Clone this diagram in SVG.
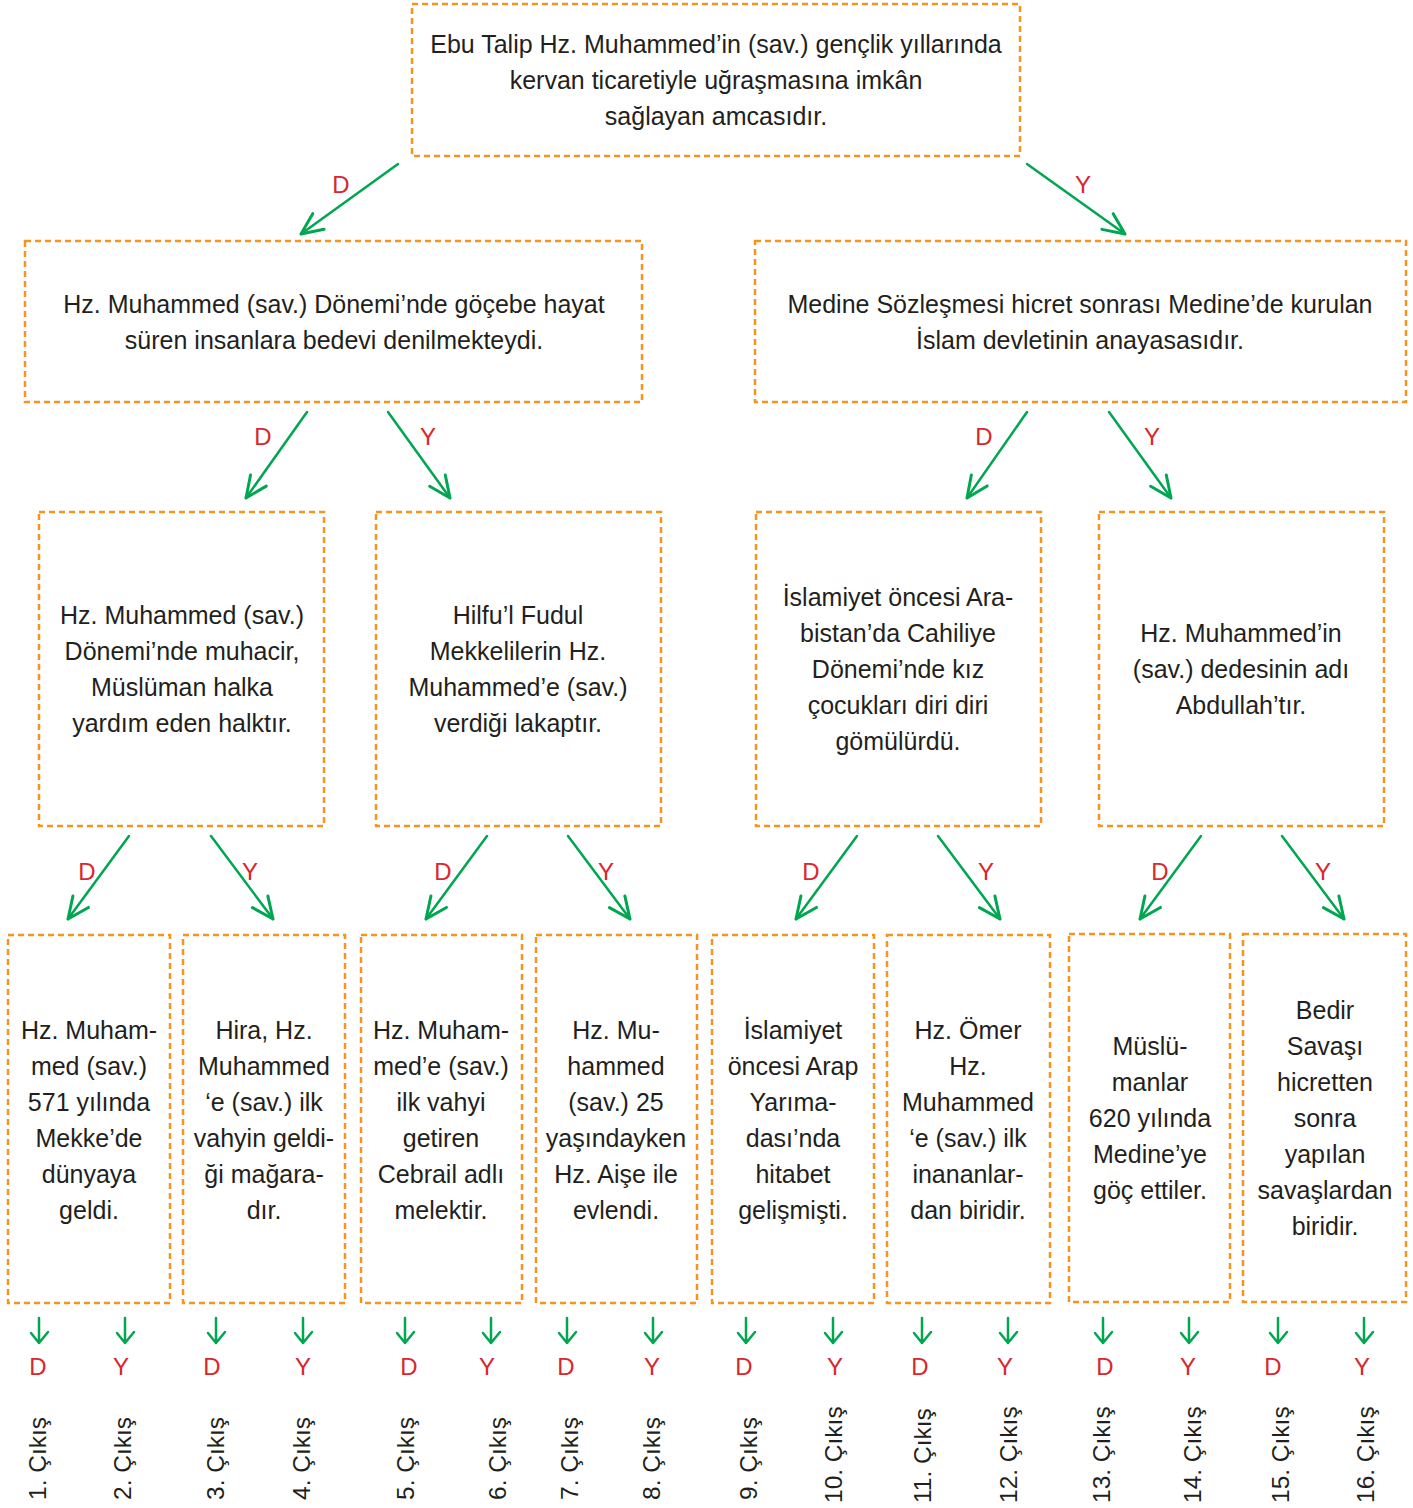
<svg xmlns="http://www.w3.org/2000/svg" width="1413" height="1508" viewBox="0 0 1413 1508">
<style>
.box{fill:#fff;stroke:#f7941d;stroke-width:2.5;stroke-dasharray:6 4}
.t{font-family:"Liberation Sans",Arial,sans-serif;font-size:25px;fill:#231f20;text-anchor:middle}
.lbl{font-family:"Liberation Sans",Arial,sans-serif;font-size:24px;fill:#d7282f;text-anchor:middle}
.out{font-family:"Liberation Sans",Arial,sans-serif;font-size:24.5px;fill:#231f20}
.ar{fill:none;stroke:#00a650;stroke-width:2.5;stroke-linecap:round;marker-end:url(#ah)}
.sa{fill:none;stroke:#00a650;stroke-width:2.5;stroke-linecap:round;stroke-linejoin:round}
</style>
<defs>
<marker id="ah" markerUnits="userSpaceOnUse" markerWidth="30" markerHeight="30" viewBox="-24 -12 28 24" refX="0" refY="0" orient="auto">
<path d="M-20,-9 L0,0 L-20,9" fill="none" stroke="#00a650" stroke-width="2.8" stroke-linecap="round" stroke-linejoin="round"/>
</marker>
</defs>
<rect width="1413" height="1508" fill="#fff"/>

<g id="n0"><rect class="box" x="412" y="4" width="608" height="152"/>
<text class="t" x="716" y="53">Ebu Talip Hz. Muhammed’in (sav.) gençlik yıllarında</text>
<text class="t" x="716" y="89">kervan ticaretiyle uğraşmasına imkân</text>
<text class="t" x="716" y="125">sağlayan amcasıdır.</text></g>

<g id="n1"><rect class="box" x="25" y="241" width="617" height="161"/>
<text class="t" x="334" y="313">Hz. Muhammed (sav.) Dönemi’nde göçebe hayat</text>
<text class="t" x="334" y="349">süren insanlara bedevi denilmekteydi.</text></g>

<g id="n2"><rect class="box" x="755" y="241" width="651" height="161"/>
<text class="t" x="1080" y="313">Medine Sözleşmesi hicret sonrası Medine’de kurulan</text>
<text class="t" x="1080" y="349">İslam devletinin anayasasıdır.</text></g>

<g id="n3"><rect class="box" x="39" y="512" width="285" height="314"/>
<text class="t" x="182" y="624">Hz. Muhammed (sav.)</text>
<text class="t" x="182" y="660">Dönemi’nde muhacir,</text>
<text class="t" x="182" y="696">Müslüman halka</text>
<text class="t" x="182" y="732">yardım eden halktır.</text></g>

<g id="n4"><rect class="box" x="376" y="512" width="285" height="314"/>
<text class="t" x="518" y="624">Hilfu’l Fudul</text>
<text class="t" x="518" y="660">Mekkelilerin Hz.</text>
<text class="t" x="518" y="696">Muhammed’e (sav.)</text>
<text class="t" x="518" y="732">verdiği lakaptır.</text></g>

<g id="n5"><rect class="box" x="756" y="512" width="285" height="314"/>
<text class="t" x="898" y="606">İslamiyet öncesi Ara-</text>
<text class="t" x="898" y="642">bistan’da Cahiliye</text>
<text class="t" x="898" y="678">Dönemi’nde kız</text>
<text class="t" x="898" y="714">çocukları diri diri</text>
<text class="t" x="898" y="750">gömülürdü.</text></g>

<g id="n6"><rect class="box" x="1099" y="512" width="285" height="314"/>
<text class="t" x="1241" y="642">Hz. Muhammed’in</text>
<text class="t" x="1241" y="678">(sav.) dedesinin adı</text>
<text class="t" x="1241" y="714">Abdullah’tır.</text></g>

<g id="n7"><rect class="box" x="8" y="935" width="162" height="368"/>
<text class="t" x="89" y="1039">Hz. Muham-</text>
<text class="t" x="89" y="1075">med (sav.)</text>
<text class="t" x="89" y="1111">571 yılında</text>
<text class="t" x="89" y="1147">Mekke’de</text>
<text class="t" x="89" y="1183">dünyaya</text>
<text class="t" x="89" y="1219">geldi.</text></g>

<g id="n8"><rect class="box" x="183" y="935" width="162" height="368"/>
<text class="t" x="264" y="1039">Hira, Hz.</text>
<text class="t" x="264" y="1075">Muhammed</text>
<text class="t" x="264" y="1111">‘e (sav.) ilk</text>
<text class="t" x="264" y="1147">vahyin geldi-</text>
<text class="t" x="264" y="1183">ği mağara-</text>
<text class="t" x="264" y="1219">dır.</text></g>

<g id="n9"><rect class="box" x="361" y="935" width="161" height="368"/>
<text class="t" x="441" y="1039">Hz. Muham-</text>
<text class="t" x="441" y="1075">med’e (sav.)</text>
<text class="t" x="441" y="1111">ilk vahyi</text>
<text class="t" x="441" y="1147">getiren</text>
<text class="t" x="441" y="1183">Cebrail adlı</text>
<text class="t" x="441" y="1219">melektir.</text></g>

<g id="n10"><rect class="box" x="536" y="935" width="161" height="368"/>
<text class="t" x="616" y="1039">Hz. Mu-</text>
<text class="t" x="616" y="1075">hammed</text>
<text class="t" x="616" y="1111">(sav.) 25</text>
<text class="t" x="616" y="1147">yaşındayken</text>
<text class="t" x="616" y="1183">Hz. Aişe ile</text>
<text class="t" x="616" y="1219">evlendi.</text></g>

<g id="n11"><rect class="box" x="712" y="935" width="162" height="368"/>
<text class="t" x="793" y="1039">İslamiyet</text>
<text class="t" x="793" y="1075">öncesi Arap</text>
<text class="t" x="793" y="1111">Yarıma-</text>
<text class="t" x="793" y="1147">dası’nda</text>
<text class="t" x="793" y="1183">hitabet</text>
<text class="t" x="793" y="1219">gelişmişti.</text></g>

<g id="n12"><rect class="box" x="887" y="935" width="163" height="368"/>
<text class="t" x="968" y="1039">Hz. Ömer</text>
<text class="t" x="968" y="1075">Hz.</text>
<text class="t" x="968" y="1111">Muhammed</text>
<text class="t" x="968" y="1147">‘e (sav.) ilk</text>
<text class="t" x="968" y="1183">inananlar-</text>
<text class="t" x="968" y="1219">dan biridir.</text></g>

<g id="n13"><rect class="box" x="1069" y="934" width="161" height="368"/>
<text class="t" x="1150" y="1055">Müslü-</text>
<text class="t" x="1150" y="1091">manlar</text>
<text class="t" x="1150" y="1127">620 yılında</text>
<text class="t" x="1150" y="1163">Medine’ye</text>
<text class="t" x="1150" y="1199">göç ettiler.</text></g>

<g id="n14"><rect class="box" x="1243" y="934" width="163" height="368"/>
<text class="t" x="1325" y="1019">Bedir</text>
<text class="t" x="1325" y="1055">Savaşı</text>
<text class="t" x="1325" y="1091">hicretten</text>
<text class="t" x="1325" y="1127">sonra</text>
<text class="t" x="1325" y="1163">yapılan</text>
<text class="t" x="1325" y="1199">savaşlardan</text>
<text class="t" x="1325" y="1235">biridir.</text></g>

<g id="connectors">
<line class="ar" x1="398" y1="164" x2="301" y2="234"/>
<line class="ar" x1="1027" y1="164" x2="1125" y2="234"/>
<line class="ar" x1="307" y1="412" x2="246" y2="498"/>
<line class="ar" x1="388" y1="412" x2="450" y2="498"/>
<line class="ar" x1="1027" y1="412" x2="967" y2="498"/>
<line class="ar" x1="1109" y1="412" x2="1171" y2="498"/>
<line class="ar" x1="129" y1="836" x2="68" y2="919"/>
<line class="ar" x1="211" y1="836" x2="273" y2="919"/>
<line class="ar" x1="487" y1="836" x2="426" y2="919"/>
<line class="ar" x1="568" y1="836" x2="630" y2="919"/>
<line class="ar" x1="857" y1="836" x2="796" y2="919"/>
<line class="ar" x1="938" y1="836" x2="1000" y2="919"/>
<line class="ar" x1="1201" y1="836" x2="1140" y2="919"/>
<line class="ar" x1="1282" y1="836" x2="1344" y2="919"/>
<g class="sa">
<path d="M39,1318 V1343 M31,1333 L39,1343 L48,1332"/>
<path d="M125,1318 V1343 M117,1333 L125,1343 L134,1332"/>
<path d="M216,1318 V1343 M208,1333 L216,1343 L225,1332"/>
<path d="M303,1318 V1343 M295,1333 L303,1343 L312,1332"/>
<path d="M405,1318 V1343 M397,1333 L405,1343 L414,1332"/>
<path d="M491,1318 V1343 M483,1333 L491,1343 L500,1332"/>
<path d="M567,1318 V1343 M559,1333 L567,1343 L576,1332"/>
<path d="M653,1318 V1343 M645,1333 L653,1343 L662,1332"/>
<path d="M746,1318 V1343 M738,1333 L746,1343 L755,1332"/>
<path d="M833,1318 V1343 M825,1333 L833,1343 L842,1332"/>
<path d="M922,1318 V1343 M914,1333 L922,1343 L931,1332"/>
<path d="M1008,1318 V1343 M1000,1333 L1008,1343 L1017,1332"/>
<path d="M1103,1318 V1343 M1095,1333 L1103,1343 L1112,1332"/>
<path d="M1189,1318 V1343 M1181,1333 L1189,1343 L1198,1332"/>
<path d="M1278,1318 V1343 M1270,1333 L1278,1343 L1287,1332"/>
<path d="M1364,1318 V1343 M1356,1333 L1364,1343 L1373,1332"/>
</g>
</g>

<g id="labels">
<text class="lbl" x="341" y="193">D</text>
<text class="lbl" x="1083" y="193">Y</text>
<text class="lbl" x="263" y="445">D</text>
<text class="lbl" x="428" y="445">Y</text>
<text class="lbl" x="984" y="445">D</text>
<text class="lbl" x="1152" y="445">Y</text>
<text class="lbl" x="87" y="880">D</text>
<text class="lbl" x="250" y="880">Y</text>
<text class="lbl" x="443" y="880">D</text>
<text class="lbl" x="606" y="880">Y</text>
<text class="lbl" x="811" y="880">D</text>
<text class="lbl" x="986" y="880">Y</text>
<text class="lbl" x="1160" y="880">D</text>
<text class="lbl" x="1323" y="880">Y</text>
<text class="lbl" x="38" y="1375">D</text>
<text class="lbl" x="121" y="1375">Y</text>
<text class="lbl" x="212" y="1375">D</text>
<text class="lbl" x="303" y="1375">Y</text>
<text class="lbl" x="409" y="1375">D</text>
<text class="lbl" x="487" y="1375">Y</text>
<text class="lbl" x="566" y="1375">D</text>
<text class="lbl" x="652" y="1375">Y</text>
<text class="lbl" x="744" y="1375">D</text>
<text class="lbl" x="835" y="1375">Y</text>
<text class="lbl" x="920" y="1375">D</text>
<text class="lbl" x="1005" y="1375">Y</text>
<text class="lbl" x="1105" y="1375">D</text>
<text class="lbl" x="1188" y="1375">Y</text>
<text class="lbl" x="1273" y="1375">D</text>
<text class="lbl" x="1362" y="1375">Y</text>
</g>

<g id="outputs">
<text class="out" transform="translate(46,1500) rotate(-90)">1. Çıkış</text>
<text class="out" transform="translate(131,1500) rotate(-90)">2. Çıkış</text>
<text class="out" transform="translate(224,1500) rotate(-90)">3. Çıkış</text>
<text class="out" transform="translate(310,1500) rotate(-90)">4. Çıkış</text>
<text class="out" transform="translate(414,1500) rotate(-90)">5. Çıkış</text>
<text class="out" transform="translate(506,1500) rotate(-90)">6. Çıkış</text>
<text class="out" transform="translate(578,1500) rotate(-90)">7. Çıkış</text>
<text class="out" transform="translate(660,1500) rotate(-90)">8. Çıkış</text>
<text class="out" transform="translate(757,1500) rotate(-90)">9. Çıkış</text>
<text class="out" transform="translate(842,1503) rotate(-90)">10. Çıkış</text>
<text class="out" transform="translate(931,1503) rotate(-90)">11. Çıkış</text>
<text class="out" transform="translate(1017,1503) rotate(-90)">12. Çıkış</text>
<text class="out" transform="translate(1110,1503) rotate(-90)">13. Çıkış</text>
<text class="out" transform="translate(1201,1503) rotate(-90)">14. Çıkış</text>
<text class="out" transform="translate(1289,1503) rotate(-90)">15. Çıkış</text>
<text class="out" transform="translate(1374,1503) rotate(-90)">16. Çıkış</text>
</g>
</svg>
